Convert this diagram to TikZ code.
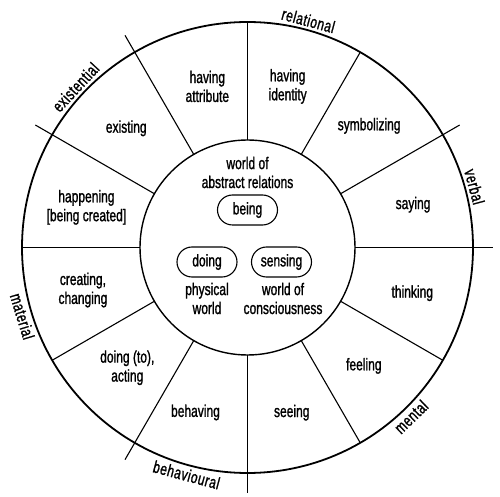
\documentclass[tikz,border=0pt]{standalone}
\usepackage{fontspec}
\setmainfont{Liberation Sans}[FakeStretch=0.71, FakeBold=1.2]
\newfontfamily\rimfont{Liberation Sans}[FakeStretch=0.71, FakeBold=1.2, LetterSpace=3.5]
\begin{document}
\begin{tikzpicture}[x=1bp, y=1bp,
    process/.style={align=center, inner sep=1bp, font=\fontsize{17}{19}\selectfont},
    realm/.style={align=center, inner sep=1bp, font=\fontsize{17}{19}\selectfont},
    pill/.style={draw, line width=1.1bp, rounded corners=15bp, minimum width=60bp,
                 minimum height=30bp, inner sep=0pt, font=\fontsize{17}{19}\selectfont},
    kindout/.style={anchor=base, inner sep=0pt, font=\rimfont\fontsize{17}{17}\selectfont},
    kindin/.style={anchor=north, inner sep=0pt, font=\rimfont\fontsize{17}{17}\selectfont}]
    \useasboundingbox (-247.5,-249.5) rectangle (252.5,247.5);

    % Rings
    \draw[line width=1.8bp] (0,0) circle (225.5);
    \draw[line width=1.4bp] (0,0) circle (107.5);

    % Spokes between the processes, longer ones between the process types
    \foreach \a in {0,30,...,330}
        \draw[line width=1.1bp] (\a:107.5) -- (\a:225.5);
    \foreach \a in {0,30,120,150,240,270}
        \draw[line width=1.1bp] (\a:225.5) -- (\a:245);

    % Processes
    \node[process] (attribute)   at (104:166) {having\\attribute};
    \node[process] (identity)    at (76:166)  {having\\identity};
    \node[process] (symbolizing) at (45:172)  {symbolizing};
    \node[process] (saying)      at (14.5:171) {saying};
    \node[process] (thinking)    at (-15.5:171) {thinking};
    \node[process] (feeling)     at (-45.5:166) {feeling};
    \node[process] (seeing)      at (-75:171) {seeing};
    \node[process] (behaving)    at (-107.5:173) {behaving};
    \node[process] (acting)      at (-135:170) {doing (to),\\acting};
    \node[process] (creating)    at (-165.5:170) {creating,\\changing};
    \node[process] (happening)   at (166:166) {happening\\{[being created]}};
    \node[process] (existing)    at (135.5:170) {existing};

    % Process types round the rim
    \node[kindout, rotate=47]  (existential) at (137:229) {existential};
    \node[kindout, rotate=-15] (relational)  at (75:229)  {relational};
    \node[kindout, rotate=-75] (verbal)      at (15:229)  {verbal};
    \node[kindin, rotate=44]   (mental)      at (-46:229) {mental};
    \node[kindin, rotate=-15]  (behavioural) at (-105:229) {behavioural};
    \node[kindin, rotate=-73]  (material)    at (-163:229) {material};

    % Centre
    \node[realm] (abstract) at (0,75) {world of\\abstract relations};
    \node[pill]  (being)    at (0,37.5) {being};
    \node[pill]  (doing)    at (-40.5,-14.5) {doing};
    \node[pill]  (sensing)  at (34,-14.5) {sensing};
    \node[realm] (physical) at (-40.5,-51) {physical\\world};
    \node[realm] (consciousness) at (35.5,-51) {world of\\consciousness};
\end{tikzpicture}
\end{document}
